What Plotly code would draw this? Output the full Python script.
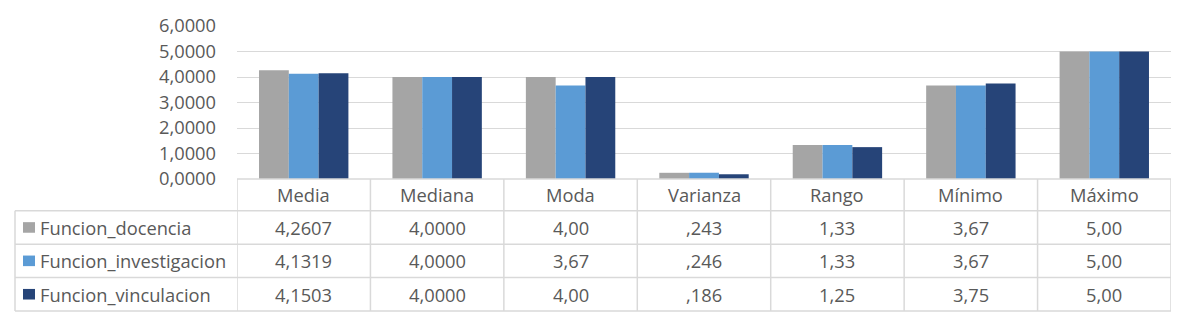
import plotly.graph_objects as go

categories = ["Media", "Mediana", "Moda", "Varianza", "Rango", "Mínimo", "Máximo"]
series_names = ["Funcion_docencia", "Funcion_investigacion", "Funcion_vinculacion"]
docencia = [4.2607, 4.0000, 4.00, 0.243, 1.33, 3.67, 5.00]
investigacion = [4.1319, 4.0000, 3.67, 0.246, 1.33, 3.67, 5.00]
vinculacion = [4.1503, 4.0000, 4.00, 0.186, 1.25, 3.75, 5.00]
decimals = [4, 4, 2, 3, 2, 2, 2]
colors = ["#A5A5A5", "#5B9BD5", "#264478"]
y_ticks = [0, 1, 2, 3, 4, 5, 6]

W, H = 1184, 326
L, R, T, B = 237, 13, 20, 147
PW, PH = W - L - R, H - T - B
FONT = "Open Sans"
FS = 18.3
TXT = "#595959"
GRID = "#D9D9D9"


def fmt(v, d):
    s = f"{v:.{d}f}".replace(".", ",")
    if s.startswith("0,") and d == 3:
        s = s[1:]
    return s


def px_x(px):
    return (px - L) / PW


def px_y(py):
    return (H - B - py) / PH


fig = go.Figure()
for name, vals, c in zip(series_names, [docencia, investigacion, vinculacion], colors):
    fig.add_trace(go.Bar(x=categories, y=vals, name=name, marker=dict(color=c, line=dict(width=0))))

shapes = []
annotations = []
n = len(categories)
row_h = 34.7
header_bottom = H - B + 33
rows_y = [header_bottom + i * row_h for i in range(4)]
table_left = 15
lw = 1.5
shapes.append(dict(type="line", xref="paper", yref="paper", x0=0, x1=1, y0=0, y1=0,
                   line=dict(color=GRID, width=lw)))
for ry in rows_y:
    shapes.append(dict(type="line", xref="paper", yref="paper", x0=px_x(table_left), x1=1,
                       y0=px_y(ry), y1=px_y(ry), line=dict(color=GRID, width=lw)))
for i in range(n + 1):
    shapes.append(dict(type="line", xref="x", yref="paper", x0=i - 0.5, x1=i - 0.5,
                       y0=0, y1=px_y(rows_y[-1]), line=dict(color=GRID, width=lw)))
shapes.append(dict(type="line", xref="paper", yref="paper", x0=px_x(table_left), x1=px_x(table_left),
                   y0=px_y(rows_y[0]), y1=px_y(rows_y[-1]), line=dict(color=GRID, width=lw)))

font = dict(family=FONT, size=FS, color=TXT)
for cat in categories:
    annotations.append(dict(x=cat, xref="x", y=px_y((H - B + header_bottom) / 2), yref="paper",
                            text=cat, showarrow=False, xanchor="center", yanchor="middle", font=font))
for r, (name, vals, c) in enumerate(zip(series_names, [docencia, investigacion, vinculacion], colors)):
    cy = (rows_y[r] + rows_y[r + 1]) / 2
    shapes.append(dict(type="rect", xref="paper", yref="paper", x0=px_x(23), x1=px_x(35),
                       y0=px_y(cy + 5.5), y1=px_y(cy - 5.5), fillcolor=c, line=dict(width=0)))
    annotations.append(dict(x=px_x(38), xref="paper", y=px_y(cy), yref="paper", text=name,
                            showarrow=False, xanchor="left", yanchor="middle", font=font))
    for cat, v, d in zip(categories, vals, decimals):
        annotations.append(dict(x=cat, xref="x", y=px_y(cy), yref="paper", text=fmt(v, d),
                                showarrow=False, xanchor="center", yanchor="middle", font=font))

fig.update_layout(
    width=W, height=H,
    margin=dict(l=L, r=R, t=T, b=B),
    paper_bgcolor="white", plot_bgcolor="white",
    separators=",.",
    barmode="group", bargap=0.33, bargroupgap=0,
    showlegend=False,
    xaxis=dict(showticklabels=False, showgrid=False, zeroline=False, showline=False,
               range=[-0.5, n - 0.5], fixedrange=True),
    yaxis=dict(range=[0, 6], tickvals=y_ticks, tickformat=".4f", showgrid=True, gridcolor=GRID,
               gridwidth=1.3, zeroline=False, showline=False, ticklabelstandoff=20,
               tickfont=font),
    shapes=shapes, annotations=annotations,
)
fig.write_html("out.html")
